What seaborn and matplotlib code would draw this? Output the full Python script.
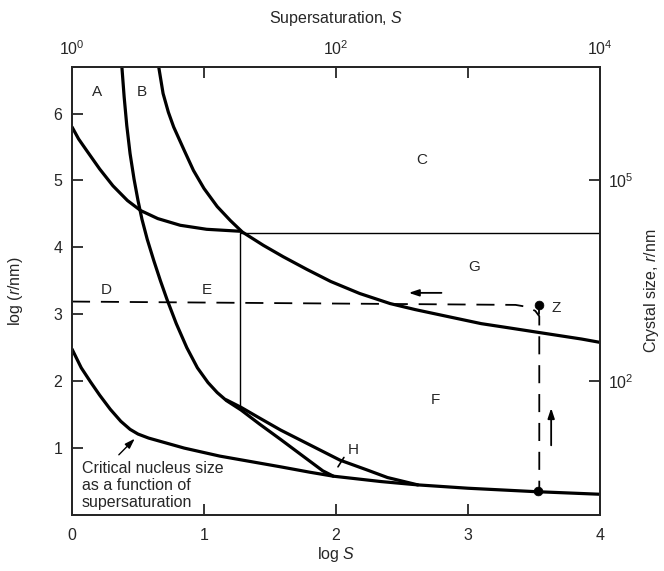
import matplotlib
matplotlib.use("Agg")
import matplotlib.pyplot as plt
import seaborn as sns

# Critical nucleus size as a function of supersaturation
crit_x = [0, 0.07, 0.14, 0.21, 0.29, 0.37, 0.44, 0.50, 0.58, 0.67, 0.85, 1.12, 1.35, 1.58, 1.80, 1.98, 2.34, 2.62, 3.0, 3.5, 4.0]
crit_y = [2.48, 2.20, 1.99, 1.79, 1.58, 1.40, 1.28, 1.21, 1.15, 1.10, 1.00, 0.88, 0.80, 0.72, 0.64, 0.58, 0.50, 0.45, 0.40, 0.35, 0.31]

# Upper-left boundary (A / D)
ad_x = [0, 0.05, 0.11, 0.21, 0.31, 0.42, 0.52, 0.65, 0.82, 1.02, 1.28]
ad_y = [5.80, 5.62, 5.45, 5.17, 4.92, 4.70, 4.55, 4.43, 4.33, 4.27, 4.24]

# Boundary B
b_x = [0.377, 0.395, 0.415, 0.44, 0.47, 0.50, 0.53, 0.57, 0.62, 0.67, 0.72, 0.79, 0.87, 0.95, 1.03, 1.10, 1.17, 1.28, 1.42, 1.58, 1.75, 1.90, 1.98]
b_y = [6.72, 6.25, 5.82, 5.40, 5.02, 4.70, 4.42, 4.12, 3.80, 3.50, 3.22, 2.86, 2.50, 2.20, 1.98, 1.83, 1.71, 1.57, 1.36, 1.13, 0.88, 0.66, 0.58]

# Boundary C / G
c_x = [0.655, 0.69, 0.73, 0.77, 0.85, 0.92, 1.0, 1.10, 1.20, 1.29, 1.45, 1.60, 1.78, 1.96, 2.18, 2.41, 2.60, 2.79, 3.10, 3.30, 3.53, 3.86, 4.0]
c_y = [6.72, 6.30, 6.02, 5.80, 5.45, 5.15, 4.88, 4.61, 4.40, 4.23, 4.03, 3.86, 3.67, 3.49, 3.31, 3.16, 3.07, 2.99, 2.86, 2.80, 2.73, 2.63, 2.58]

# Boundary H
h_x = [1.17, 1.28, 1.42, 1.58, 1.80, 2.03, 2.24, 2.39, 2.62]
h_y = [1.72, 1.61, 1.45, 1.27, 1.05, 0.82, 0.67, 0.56, 0.45]

# Thin region borders
thin_h_x = [1.28, 4.0]
thin_h_y = [4.22, 4.22]
thin_v_x = [1.27, 1.27]
thin_v_y = [4.22, 1.59]

# Dashed path through point Z
path_x = [0, 3.36, 3.45, 3.51, 3.54, 3.54]
path_y = [3.19, 3.14, 3.11, 3.05, 2.97, 0.36]
z_point = (3.54, 3.14)
end_point = (3.53, 0.36)

region_labels = ["A", "B", "C", "D", "E", "F", "G", "H", "Z"]
region_x = [0.19, 0.53, 2.65, 0.26, 1.02, 2.75, 3.05, 2.13, 3.67]
region_y = [6.32, 6.32, 5.30, 3.37, 3.37, 1.72, 3.70, 0.97, 3.10]

x_ticks = [0, 1, 2, 3, 4]
y_ticks = [1, 2, 3, 4, 5, 6]
top_ticks = [0, 1, 2, 3, 4]
top_labels = [r"$\mathregular{10^0}$", "", r"$\mathregular{10^2}$", "", r"$\mathregular{10^4}$"]
right_ticks = [2, 5]
right_labels = [r"$\mathregular{10^2}$", r"$\mathregular{10^5}$"]

sns.set_style("ticks")
plt.rcParams["font.family"] = ["Liberation Sans", "DejaVu Sans"]
plt.rcParams["mathtext.fontset"] = "custom"
plt.rcParams["mathtext.rm"] = "Liberation Sans"
plt.rcParams["mathtext.it"] = "Liberation Sans:italic"

fig = plt.figure(figsize=(6.64, 5.71), dpi=100)
ax = fig.add_axes([72 / 664, 1 - 515 / 571, 528 / 664, 448.3 / 571])

thick = dict(color="black", linewidth=2.3, sort=False, estimator=None, ax=ax)
thin = dict(color="black", linewidth=1.0, sort=False, estimator=None, ax=ax)
for xs, ys in [(crit_x, crit_y), (ad_x, ad_y), (b_x, b_y), (c_x, c_y), (h_x, h_y)]:
    sns.lineplot(x=xs, y=ys, **thick)
for line in ax.get_lines():
    line.set_solid_joinstyle("round")
sns.lineplot(x=thin_h_x, y=thin_h_y, **thin)
sns.lineplot(x=thin_v_x, y=thin_v_y, **thin)

# Trajectory (dashed)
ax.plot(path_x, path_y, color="black", linewidth=1.3, dashes=(10, 6))
ax.plot([z_point[0], z_point[0]], [z_point[1], z_point[1] - 0.13], color="black", linewidth=1.3)
sns.scatterplot(x=[z_point[0], end_point[0]], y=[z_point[1], end_point[1]],
                color="black", s=40, edgecolor="black", ax=ax, zorder=5)

# Small mark across boundary H
ax.plot([2.015, 2.06], [0.72, 0.86], color="black", linewidth=1.2)

# Direction arrows
arrow = dict(arrowstyle="-|>,head_length=0.6,head_width=0.2", color="black", linewidth=1.3)
ax.annotate("", xy=(2.53, 3.32), xytext=(2.82, 3.32), arrowprops=arrow)
ax.annotate("", xy=(3.63, 1.64), xytext=(3.63, 1.0), arrowprops=arrow)
ax.annotate("", xy=(0.49, 1.17), xytext=(0.34, 0.87),
            arrowprops=dict(arrowstyle="-|>,head_length=0.6,head_width=0.2", color="black", linewidth=1.0))

for lab, lx, ly in zip(region_labels, region_x, region_y):
    ax.text(lx, ly, lab, fontsize=11, ha="center", va="center")

ax.text(0.075, 0.80, "Critical nucleus size\nas a function of\nsupersaturation",
        fontsize=11.5, ha="left", va="top", linespacing=1.15)

ax.set_xlim(0, 4)
ax.set_ylim(0, 6.70)
ax.set_xticks(x_ticks)
ax.set_xticklabels([str(t) for t in x_ticks])
ax.set_yticks(y_ticks)
ax.set_yticklabels([str(t) for t in y_ticks])
ax.tick_params(axis="x", direction="in", length=8, width=1.3, labelsize=11.5, pad=9, top=False)
ax.tick_params(axis="y", direction="in", length=8, width=1.3, labelsize=11.5, pad=7, right=False)
ax.set_xlabel(r"log $\mathit{S}$", fontsize=11.5, labelpad=2)
ax.set_ylabel(r"log ($\mathit{r}$/nm)", fontsize=11.5, labelpad=20)

ax_top = ax.twiny()
ax_top.set_xlim(0, 4)
ax_top.set_xticks(top_ticks)
ax_top.set_xticklabels(top_labels)
ax_top.tick_params(direction="in", length=8, width=1.3, labelsize=11.5, pad=6)
ax_top.set_xlabel(r"Supersaturation, $\mathit{S}$", fontsize=11.5, labelpad=12)

ax_right = ax.twinx()
ax_right.set_ylim(0, 6.70)
ax_right.set_yticks(right_ticks)
ax_right.set_yticklabels(right_labels)
ax_right.tick_params(direction="in", length=8, width=1.3, labelsize=11.5, pad=6)
ax_right.set_ylabel(r"Crystal size, $\mathit{r}$/nm", fontsize=11.5, labelpad=6)

for a in (ax, ax_top, ax_right):
    for sp in a.spines.values():
        sp.set_linewidth(1.4)
        sp.set_visible(True)

fig.savefig("out.png", dpi=100)
